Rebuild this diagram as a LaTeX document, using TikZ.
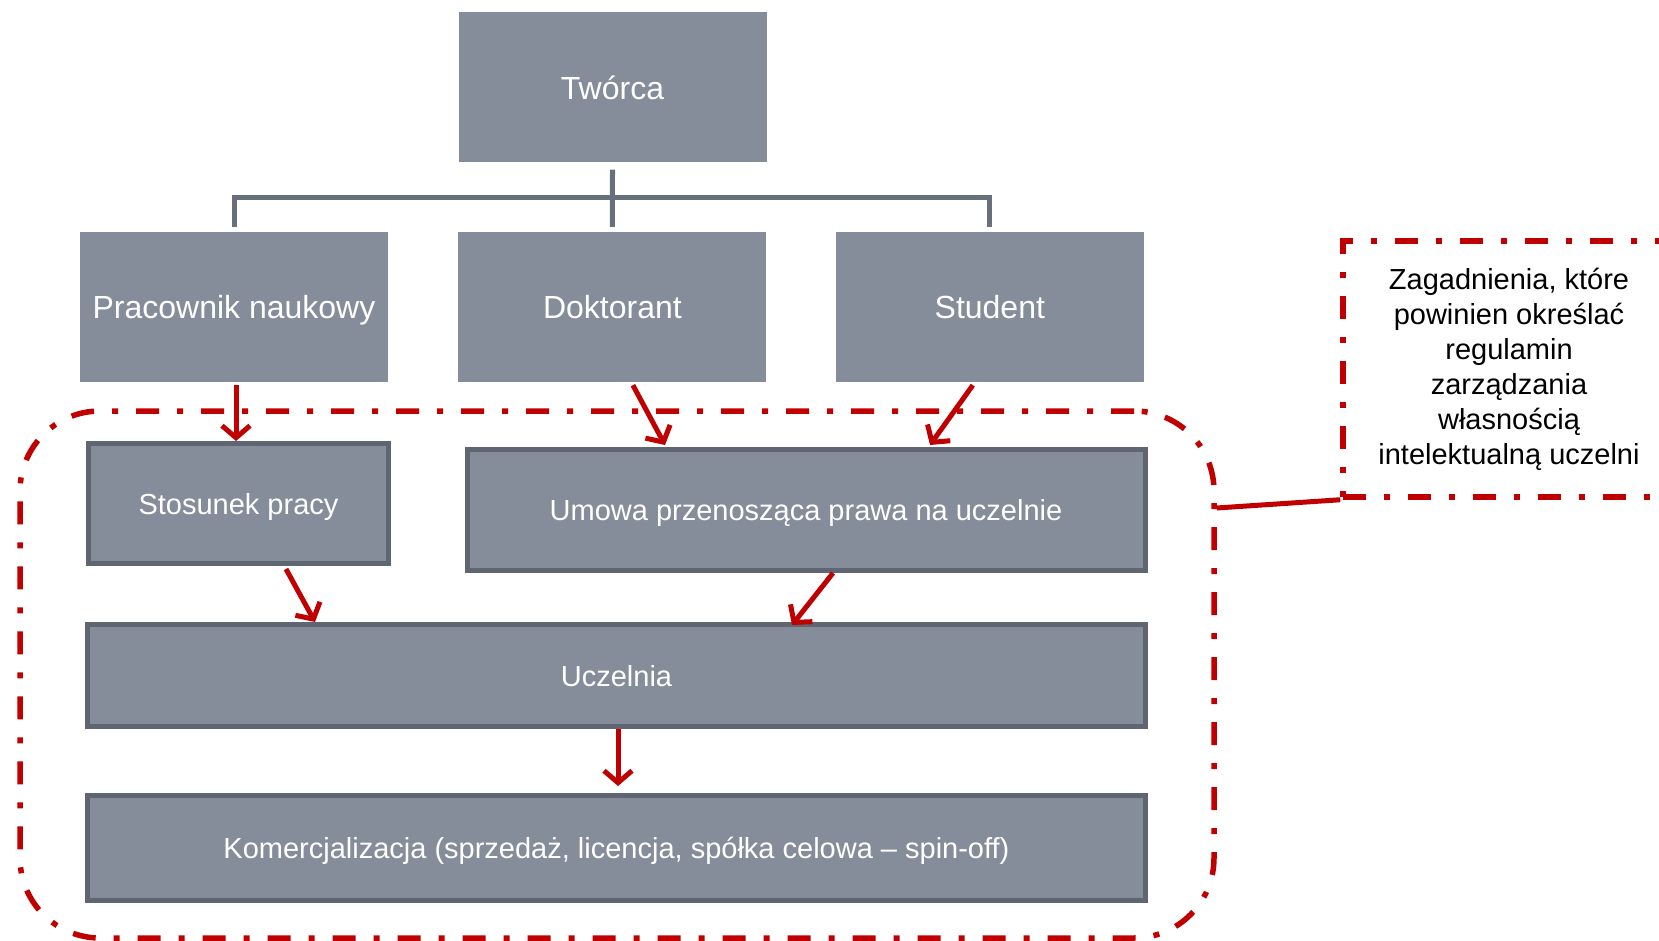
\documentclass[tikz,border=0pt]{standalone}
\usepackage{fontspec}
\setmainfont{Liberation Sans}
\usetikzlibrary{positioning, arrows.meta}
\definecolor{box-gray}{HTML}{858D9B}
\definecolor{box-border}{HTML}{5F6672}
\definecolor{line-gray}{HTML}{68707C}
\definecolor{frame-red}{HTML}{C00000}

\begin{document}
\begin{tikzpicture}[x=1pt, y=-1pt,
	box/.style={fill=box-gray, text=white, inner sep=0pt, text depth=0pt, minimum width=308pt, minimum height=150pt, font=\fontsize{32}{38}\selectfont},
	framedbox/.style={box, draw=box-border, line width=5pt, font=\fontsize{29}{35}\selectfont},
	tree/.style={line-gray, line width=5pt},
	flow/.style={frame-red, line width=5pt, -{Straight Barb[length=12pt, width=28pt]}},
	dashdot/.style={draw=frame-red, line width=5.5pt, dash pattern=on 23pt off 18pt on 6pt off 18pt}]
	\useasboundingbox (0,0) rectangle (1659,941);
	\node[box] (tworca) at (612.5,87.5) {Twórca};
	\node[box] (pracownik) at (234,307) {Pracownik naukowy};
	\node[box, right=70pt of pracownik] (doktorant) {Doktorant};
	\node[box, right=69pt of doktorant] (student) {Student};
	\node[framedbox, minimum width=300pt, minimum height=120pt] (stosunek) at (238.5,503.5) {Stosunek pracy};
	\node[framedbox, minimum width=678pt, minimum height=121pt] (umowa) at (806,510) {Umowa przenosząca prawa na uczelnie};
	\node[framedbox, minimum width=1058pt, minimum height=102pt] (uczelnia) at (616.5,675.5) {Uczelnia};
	\node[framedbox, minimum width=1058pt, minimum height=105pt] (komercjalizacja) at (616.5,848) {Komercjalizacja (sprzedaż, licencja, spółka celowa -- spin-off)};
	\node[dashdot, rounded corners=80pt, minimum width=1194pt, minimum height=527pt] (ramka) at (617,674.5) {};
	\node[dashdot, minimum width=332pt, minimum height=256pt, align=center, font=\fontsize{29}{35}\selectfont] (uwagi) at (1509,369) {Zagadnienia, które\\powinien określać\\regulamin\\zarządzania\\własnością\\intelektualną uczelni};
	\coordinate (rozgalezienie) at (612,198);
	\draw[tree] ([yshift=-7pt]tworca.south) -- ([yshift=5pt]doktorant.north);
	\draw[tree] ([yshift=5pt]pracownik.north) -- (pracownik.north |- rozgalezienie) -- (student.north |- rozgalezienie) -- ([yshift=5pt]student.north);
	\draw[flow] ([xshift=2pt, yshift=-3pt]pracownik.south) -- ([xshift=-2.5pt]stosunek.north);
	\draw[flow] ([xshift=20.5pt, yshift=-3pt]doktorant.south) -- ([xshift=-141pt, yshift=2pt]umowa.north);
	\draw[flow] ([xshift=-17pt, yshift=-3pt]student.south) -- ([xshift=124pt, yshift=2pt]umowa.north);
	\draw[flow] ([xshift=47.5pt, yshift=-3pt]stosunek.south) -- ([xshift=-301.5pt]uczelnia.north);
	\draw[flow] ([xshift=27pt]umowa.south) -- ([xshift=175.5pt, yshift=-3pt]uczelnia.north);
	\draw[flow] ([xshift=1.5pt]uczelnia.south) -- ([xshift=1.5pt, yshift=7pt]komercjalizacja.north);
	\draw[frame-red, line width=5pt] ([yshift=166.5pt]ramka.east) -- (uwagi.south west);
\end{tikzpicture}
\end{document}
